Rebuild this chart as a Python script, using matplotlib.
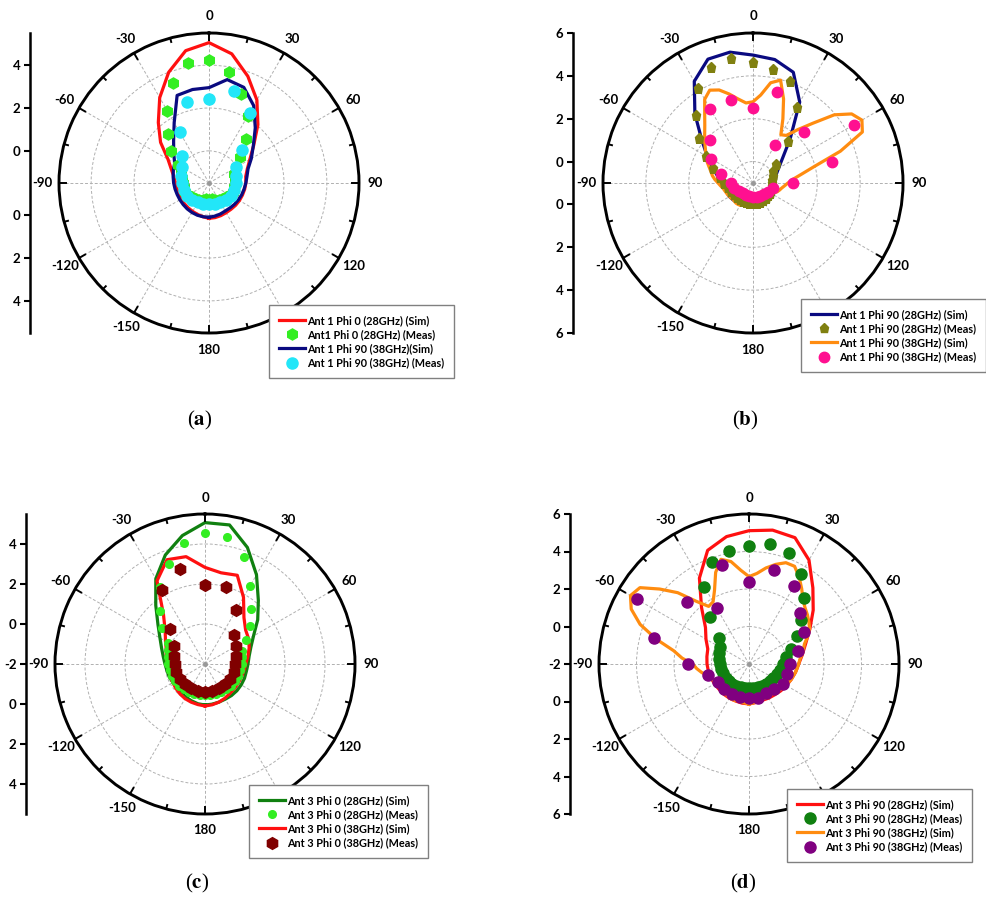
import numpy as np
import matplotlib.pyplot as plt

plt.rcParams['font.family'] = ['Lato', 'DejaVu Sans']
plt.rcParams['font.weight'] = 'bold'
plt.rcParams['mathtext.fontset'] = 'stix'

# ---------------- data (angle in degrees, gain in dBi) ----------------
ang10 = np.arange(-180, 190, 10)          # simulated curves, 10 deg steps
ang5 = np.arange(-180, 185, 5)            # simulated curves, 5 deg steps
m10 = np.arange(-180, 180, 10)            # measured points, 10 deg steps
m15 = np.arange(-180, 180, 15)            # measured points, 15 deg steps

# (a)
a_sim28 = [0.15, 0.10, 0.06, 0.03, 0.01, 0.00, 0.00, 0.01, 0.02, 0.07, 0.16, 0.37, 0.71,
           1.45, 2.18, 3.10, 4.00, 4.77, 5.05, 4.62, 3.80, 2.97, 2.05, 1.22, 0.70, 0.40,
           0.24, 0.22, 0.19, 0.16, 0.14, 0.12, 0.10, 0.10, 0.12, 0.14, 0.15]
a_sim38 = [0.10, 0.10, 0.10, 0.09, 0.08, 0.07, 0.07, 0.08, 0.11, 0.15, 0.20, 0.27, 0.35,
           0.65, 1.07, 1.75, 2.85, 2.93, 2.95, 3.40, 3.25, 2.67, 1.86, 1.20, 0.78, 0.44,
           0.30, 0.22, 0.16, 0.12, 0.08, 0.05, 0.02, 0.01, 0.04, 0.07, 0.10]
a_meas28 = [-0.73, -0.72, -0.67, -0.60, -0.52, -0.45, -0.38, -0.33, -0.30, -0.27, -0.20, -0.12,
            0.18, 0.81, 1.46, 2.39, 3.45, 4.17, 4.24, 3.75, 2.91, 2.13, 1.21, 0.40, -0.04,
            -0.25, -0.27, -0.27, -0.30, -0.33, -0.38, -0.45, -0.52, -0.60, -0.67, -0.72]
a_meas38 = [-0.52, -0.50, -0.45, -0.38, -0.33, -0.30, -0.25, -0.15, -0.05, 0.26, 1.25, 2.40,
            2.40, 2.95, 2.28, 0.68, -0.03, -0.20, -0.25, -0.30, -0.33, -0.38, -0.45, -0.50]

# (b)
b_sim28 = [0.07, 0.07, 0.08, 0.12, 0.17, 0.22, 0.27, 0.30, 0.34, 0.50, 0.65, 1.00, 1.46,
           2.12, 3.22, 4.48, 5.15, 5.20, 4.97, 4.85, 4.50, 3.36, 1.70, 0.80, 0.38, 0.15,
           0.07, 0.01, 0.00, -0.01, -0.02, -0.02, -0.01, -0.01, 0.00, 0.02, 0.07]
b_sim38 = [0.10, 0.09, 0.08, 0.07, 0.10, 0.15, 0.20, 0.22, 0.23, 0.22, 0.20, 0.24, 0.26,
           0.30, 0.33, 0.37, 0.42, 0.52, 0.63, 0.78, 0.92, 1.03, 1.18, 1.37, 1.53, 1.71,
           1.94, 2.19, 2.50, 2.93, 3.51, 3.78, 3.62, 3.30, 2.98, 2.75, 2.79, 3.12, 3.75,
           3.97, 3.17, 2.30, 1.60, 1.71, 2.25, 2.94, 3.95, 4.62, 4.87, 4.63, 3.34, 1.95,
           1.27, 0.85, 0.63, 0.48, 0.36, 0.28, 0.20, 0.08, 0.03, 0.00, -0.03, -0.05, -0.06,
           -0.07, -0.08, -0.05, 0.00, 0.05, 0.00, 0.05, 0.10]
b_meas28 = [-0.05, -0.05, -0.05, -0.05, -0.03, 0.00, 0.05, 0.10, 0.20, 0.35, 0.55, 1.00,
            1.55, 2.29, 3.17, 4.13, 4.78, 4.91, 4.63, 4.39, 4.06, 3.08, 1.53, 0.40, 0.10,
            0.00, -0.08, -0.10, -0.10, -0.10, -0.10, -0.10, -0.08, -0.07, -0.06, -0.05]
b_meas38 = [-0.33, -0.35, -0.36, -0.32, -0.24, -0.07, 0.01, 0.55, 1.26, 1.83, 2.97, 3.02,
            2.48, 3.38, 1.03, 2.38, 4.43, 2.83, 0.87, -0.03, -0.20, -0.28, -0.32, -0.34]

# (c)
c_sim28 = [0.05, 0.02, -0.04, -0.09, -0.14, -0.19, -0.15, -0.10, -0.07, 0.00, 0.12, 0.31,
           0.60, 1.07, 1.83, 2.92, 3.80, 4.52, 5.07, 5.06, 4.20, 3.15, 2.15, 1.44, 0.80,
           0.44, 0.24, 0.15, 0.10, 0.10, 0.09, 0.08, 0.06, 0.03, 0.03, 0.04, 0.05]
c_sim38 = [0.10, 0.06, 0.03, 0.00, -0.05, -0.10, -0.14, -0.15, -0.16, -0.12, -0.03, 0.06,
           0.28, 0.60, 1.23, 2.80, 3.55, 3.45, 2.83, 2.63, 2.72, 1.85, 1.03, 0.65, 0.52,
           0.35, 0.18, 0.04, -0.03, -0.07, -0.08, -0.08, -0.07, -0.02, 0.03, 0.07, 0.10]
c_meas28 = [-0.45, -0.45, -0.43, -0.40, -0.37, -0.32, -0.28, -0.24, -0.20, -0.17, -0.10, -0.02,
            0.13, 0.80, 1.49, 2.46, 3.33, 4.16, 4.57, 4.43, 3.70, 2.52, 1.60, 0.95, 0.38,
            -0.05, -0.12, -0.17, -0.20, -0.24, -0.28, -0.32, -0.37, -0.40, -0.43, -0.45]
c_meas38 = [-0.62, -0.62, -0.60, -0.57, -0.55, -0.52, -0.50, -0.40, -0.20, 0.47, 2.27, 2.90,
            1.95, 1.97, 1.11, 0.05, -0.22, -0.40, -0.50, -0.52, -0.55, -0.57, -0.60, -0.62]

# (d)
d_sim28 = [0.13, 0.12, 0.10, 0.10, 0.10, 0.09, 0.12, 0.16, 0.20, 0.24, 0.28, 0.34, 0.65,
           1.03, 1.94, 3.29, 4.45, 4.90, 5.11, 5.25, 5.17, 4.40, 3.30, 2.47, 1.75, 1.22,
           0.89, 0.65, 0.52, 0.40, 0.30, 0.22, 0.14, 0.10, 0.06, 0.09, 0.13]
d_sim38 = [0.13, 0.10, 0.08, 0.05, 0.08, 0.10, 0.08, 0.05, 0.02, 0.00, -0.02, 0.00, 0.05,
           0.10, 0.15, 0.33, 0.57, 0.80, 1.00, 1.58, 2.08, 3.12, 4.18, 4.93, 5.30, 5.10,
           4.22, 3.38, 2.36, 1.75, 1.83, 2.35, 3.20, 3.78, 3.55, 3.02, 2.66, 2.85, 3.20,
           3.50, 3.75, 3.75, 3.35, 2.90, 2.48, 2.23, 2.07, 1.90, 1.73, 1.45, 1.15, 1.00,
           0.87, 0.72, 0.65, 0.58, 0.52, 0.45, 0.40, 0.33, 0.27, 0.20, 0.14, 0.08, 0.03,
           0.00, 0.00, 0.00, 0.00, 0.00, 0.05, 0.10, 0.13]
d_meas28 = [-0.70, -0.70, -0.68, -0.66, -0.63, -0.60, -0.56, -0.52, -0.48, -0.44, -0.35, -0.30,
            -0.22, 0.12, 1.24, 2.77, 3.77, 4.14, 4.31, 4.50, 4.28, 3.55, 2.59, 1.65, 0.96,
            0.41, 0.03, -0.20, -0.30, -0.40, -0.50, -0.55, -0.60, -0.64, -0.67, -0.70]
d_meas38 = [-0.17, -0.19, -0.14, -0.10, -0.10, 0.26, 1.25, 3.26, 4.90, 2.71, 1.42, 3.47,
            2.36, 3.19, 2.80, 1.88, 1.39, 0.69, 0.20, 0.08, 0.09, -0.15, -0.19, -0.11]

# 150 sits under the legend in every panel, so it is not labelled
theta_labels = [0, 30, 60, 90, 120, 180, -150, -120, -90, -60, -30]

W, H = 986, 916
fig = plt.figure(figsize=(W / 100, H / 100), dpi=100)


def panel(cx, cy, R, rmin, rmax, axis_x, up, down, centre):
    ax = fig.add_axes([(cx - R) / W, (H - cy - R) / H, 2 * R / W, 2 * R / H],
                      projection='polar')
    ax.set_theta_zero_location('N')
    ax.set_theta_direction(-1)
    ax.set_ylim(rmin, rmax)
    ax.set_xticks(np.radians(np.arange(0, 360, 30)))
    ax.set_xticklabels([])
    ax.set_yticks([0, 2, 4])
    ax.set_yticklabels([])
    ax.tick_params(length=0)
    ax.grid(True, color='#b0b0b0', ls=(0, (3, 2)), lw=0.7)
    ax.spines['polar'].set_linewidth(2.1)
    ppu = (rmax - rmin) / R
    for a in range(0, 360, 15):
        L = 7 if a % 30 == 0 else 4
        ax.plot([np.radians(a)] * 2, [rmax - L * ppu, rmax], color='k',
                lw=1.4, clip_on=False, zorder=3)
    ax.plot([0], [rmin], 'o', color='#999999', ms=2.5, zorder=3)
    for t in theta_labels:
        th = np.radians(t)
        ax.text(0.5 + 0.555 * np.sin(th), 0.5 + 0.555 * np.cos(th), str(t),
                transform=ax.transAxes, ha='center', va='center', fontsize=9.5,
                fontweight='bold')

    # linear magnitude scale drawn on the left
    sx = fig.add_axes([axis_x / W, (H - cy - R) / H, 0.0001, 2 * R / H])
    span = rmax - rmin
    sx.set_ylim(-span, span)
    pos = [v - rmin for v in up] + [-(v - rmin) for v in down]
    lab = [str(v) for v in up + down]
    if centre is not None:
        pos.append(0)
        lab.append(str(centre))
    sx.set_yticks(pos)
    sx.set_yticklabels(lab, fontsize=9.5, fontweight='bold')
    sx.set_xticks([])
    for s in ['top', 'right', 'bottom']:
        sx.spines[s].set_visible(False)
    sx.spines['left'].set_linewidth(1.8)
    sx.tick_params(axis='y', direction='out', length=4, width=1.5, pad=3)
    sx.patch.set_visible(False)
    return ax


def finish(ax, handles, x, y):
    leg = ax.legend(handles=handles, loc='upper left', bbox_to_anchor=(x / W, 1 - y / H),
                    bbox_transform=fig.transFigure, fontsize=7.8, frameon=True,
                    fancybox=False, edgecolor='#808080', framealpha=1,
                    handlelength=2.4, handletextpad=0.2, labelspacing=0.3,
                    borderpad=0.9, borderaxespad=0, numpoints=1)
    leg.get_frame().set_linewidth(1.0)
    leg.set_zorder(10)


rad = np.radians

# ---- (a)
ax = panel(209, 183, 150, -1.5, 5.5, 30, [4, 2, 0], [0, 2, 4], None)
l1, = ax.plot(rad(ang10), a_sim28, color='#ff1010', lw=2.3, label='Ant 1 Phi 0 (28GHz) (Sim)')
l3, = ax.plot(rad(ang10), a_sim38, color='#0a0a80', lw=2.3, label='Ant 1 Phi 90 (38GHz)(Sim)')
l2, = ax.plot(rad(m10), a_meas28, 'h', color='#33ee22', ms=8, ls='none',
              label='Ant1 Phi 0 (28GHz) (Meas)')
l4, = ax.plot(rad(m15), a_meas38, 'o', color='#22e6f8', ms=8, ls='none',
              label='Ant 1 Phi 90 (38GHz) (Meas)')
finish(ax, [l1, l2, l3, l4], 269, 305)

# ---- (b)
ax = panel(753, 183, 150, -1, 6, 573, [6, 4, 2, 0], [0, 2, 4, 6], None)
l1, = ax.plot(rad(ang10), b_sim28, color='#0a0a80', lw=2.3, label='Ant 1 Phi 90 (28GHz) (Sim)')
l3, = ax.plot(rad(ang5), b_sim38, color='#ff8c10', lw=2.3, label='Ant 1 Phi 90 (38GHz) (Sim)')
l2, = ax.plot(rad(m10), b_meas28, 'p', color='#808010', ms=6.5, ls='none',
              label='Ant 1 Phi 90 (28GHz) (Meas)')
l4, = ax.plot(rad(m15), b_meas38, 'o', color='#ff1090', ms=7.5, ls='none',
              label='Ant 1 Phi 90 (38GHz) (Meas)')
finish(ax, [l1, l2, l3, l4], 801, 299)

# ---- (c)
ax = panel(205, 664, 150, -2, 5.5, 26, [4, 2, 0], [0, 2, 4], -2)
l1, = ax.plot(rad(ang10), c_sim28, color='#108010', lw=2.3, label='Ant 3 Phi 0 (28GHz) (Sim)')
l3, = ax.plot(rad(ang10), c_sim38, color='#ff1010', lw=2.3, label='Ant 3 Phi 0 (38GHz) (Sim)')
l2, = ax.plot(rad(m10), c_meas28, 'o', color='#33ee22', ms=5.5, ls='none',
              label='Ant 3 Phi 0 (28GHz) (Meas)')
l4, = ax.plot(rad(m15), c_meas38, 'h', color='#800000', ms=8.5, ls='none',
              label='Ant 3 Phi 0 (38GHz) (Meas)')
finish(ax, [l1, l2, l3, l4], 249, 785)

# ---- (d)
ax = panel(749, 664, 150, -2, 6, 570, [6, 4, 2, 0], [0, 2, 4, 6], -2)
l1, = ax.plot(rad(ang10), d_sim28, color='#ff1010', lw=2.3, label='Ant 3 Phi 90 (28GHz) (Sim)')
l3, = ax.plot(rad(ang5), d_sim38, color='#ff8c10', lw=2.3, label='Ant 3 Phi 90 (38GHz) (Sim)')
l2, = ax.plot(rad(m10), d_meas28, 'o', color='#108010', ms=8, ls='none',
              label='Ant 3 Phi 90 (28GHz) (Meas)')
l4, = ax.plot(rad(m15), d_meas38, 'o', color='#800080', ms=8, ls='none',
              label='Ant 3 Phi 90 (38GHz) (Meas)')
finish(ax, [l1, l2, l3, l4], 787, 789)

for lbl, x, y in [('a', 200, 420), ('b', 745, 420), ('c', 197, 883), ('d', 743, 883)]:
    fig.text(x / W, 1 - y / H, r'($\mathbf{%s}$)' % lbl, ha='center', va='center',
             fontsize=15, family='Liberation Serif', fontweight='normal')

fig.savefig('out.png', dpi=100, facecolor='white')
